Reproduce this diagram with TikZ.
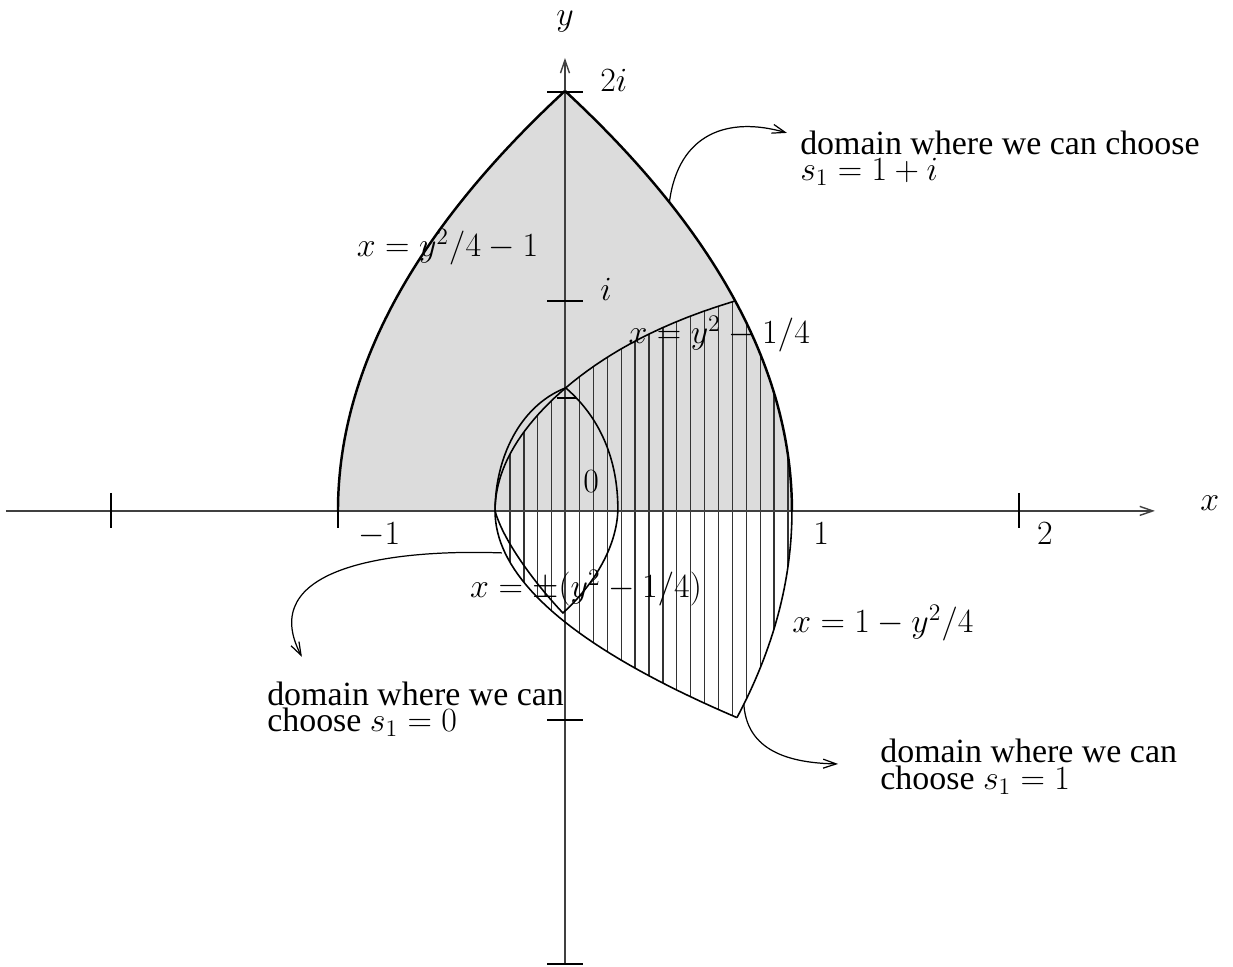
\documentclass[tikz,border=0pt]{standalone}
\usepackage{fix-cm}
\usepackage[no-math]{fontspec}
\setmainfont{Liberation Serif}
\usetikzlibrary{arrows.meta}
\definecolor{regiongray}{HTML}{DCDCDC}
\newcommand{\labfont}{\fontsize{19.3}{15}\selectfont}

\begin{document}
\begin{tikzpicture}[x=4.54cm,y=4.2cm,>={Straight Barb[length=2.6mm,width=1.8mm]},
  every node/.style={font=\labfont,inner sep=0pt},
  axis/.style={black!75,line width=0.8pt},
  axtick/.style={black,line width=0.8pt},
  bound/.style={line width=1.4pt},
  thinbound/.style={line width=0.9pt},
  hatchline/.style={black!80,line width=0.75pt},
  pointer/.style={->,line width=0.7pt}]
  \useasboundingbox (-2.489,-2.171) rectangle (2.943,2.433);
  \fill[regiongray] plot[domain=0:2,samples=60] ({\x*\x/4-1},\x) -- plot[domain=2:0,samples=60] ({1-\x*\x/4},\x) -- cycle;
  \begin{scope}
    \clip plot[domain=-0.984:0,samples=40] ({-0.308+1.1*\x*\x},\x) -- plot[domain=0:1,samples=40] ({-0.308+0.9*\x*\x+0.158*\x^8},\x) -- plot[domain=1:-0.984,samples=40] ({1-\x*\x/4},\x) -- cycle;
    \foreach \k in {0,...,20}{\draw[hatchline] ({-0.2423+0.06123*\k},-1.1) -- ++(0,2.2);}
  \end{scope}
  \draw[axis,->] (-2.463,0) -- (2.599,0);
  \draw[axis,->] (0,-2.157) -- (0,2.157);
  \foreach \t in {-2,-1,2}{\draw[axtick] (\t,0.086) -- (\t,-0.081);}
  \foreach \t in {1.995,1,-0.995,-2.157}{\draw[axtick] (-0.079,\t) -- (0.079,\t);}
  \draw[axtick] (-0.035,0.538) -- (0.05,0.538);
  \draw[bound] plot[domain=0:2,samples=60] ({\x*\x/4-1},\x);
  \draw[bound] plot[domain=0:2,samples=60] ({1-\x*\x/4},\x);
  \draw[thinbound] plot[domain=-0.984:0,samples=30] ({1-\x*\x/4},\x);
  \draw[thinbound] plot[domain=-0.984:0,samples=40] ({-0.308+1.1*\x*\x},\x) -- plot[domain=0:1,samples=40] ({-0.308+0.9*\x*\x+0.158*\x^8},\x);
  \coordinate (lenstop) at (0.003,0.586);
  \coordinate (lensleft) at (-0.308,0);
  \coordinate (lensbottom) at (-0.009,-0.486);
  \coordinate (lensright) at (0.233,0);
  \draw[thinbound] (lenstop) .. controls (-0.2,0.50) and (-0.308,0.25) .. (lensleft)
    .. controls (-0.27,-0.15) and (-0.12,-0.36) .. (lensbottom)
    .. controls (0.10,-0.38) and (0.225,-0.2) .. (lensright)
    .. controls (0.235,0.25) and (0.15,0.45) .. (lenstop);
  \node[anchor=base] (ylab) at (0,2.31) {$y$};
  \node[anchor=base] (xlab) at (2.841,0) {$x$};
  \node[anchor=base west] (twoi) at (0.154,1.995) {$2i$};
  \node[anchor=base west] (onei) at (0.154,1) {$i$};
  \node[anchor=base west] (zero) at (0.079,0.086) {$0$};
  \node[anchor=base west] (mone) at (-0.912,-0.162) {$-1$};
  \node[anchor=base west] (one) at (1.093,-0.162) {$1$};
  \node[anchor=base west] (two) at (2.079,-0.162) {$2$};
  \node[anchor=base west] (leftlab) at (-0.918,1.211) {$x=y^2/4-1$};
  \node[anchor=base west] (hatchlab) at (0.279,0.795) {$x=y^2-1/4$};
  \node[anchor=base west] (lenslab) at (-0.419,-0.414) {$x=\pm(y^2-1/4)$};
  \node[anchor=base west] (rightlab) at (1.0,-0.581) {$x=1-y^2/4$};
  \node[anchor=base west,align=left] (domtop) at (1.035,1.574) {domain where we can choose\\$s_1=1+i$};
  \node[anchor=base west,align=left] (domzero) at (-1.313,-1.05) {domain where we can\\choose $s_1=0$};
  \node[anchor=base west,align=left] (domone) at (1.388,-1.326) {domain where we can\\choose $s_1=1$};
  \coordinate (fromtop) at (0.46,1.47);
  \coordinate (totop) at (0.978,1.80);
  \coordinate (fromzero) at (-0.278,-0.2);
  \coordinate (tozero) at (-1.159,-0.695);
  \coordinate (fromone) at (0.788,-0.92);
  \coordinate (toone) at (1.203,-1.205);
  \draw[pointer] (fromtop) .. controls (0.50,1.80) and (0.72,1.88) .. (totop);
  \draw[pointer] (fromzero) .. controls (-0.80,-0.18) and (-1.36,-0.28) .. (tozero);
  \draw[pointer] (fromone) .. controls (0.80,-1.12) and (0.95,-1.2) .. (toone);
\end{tikzpicture}
\end{document}
